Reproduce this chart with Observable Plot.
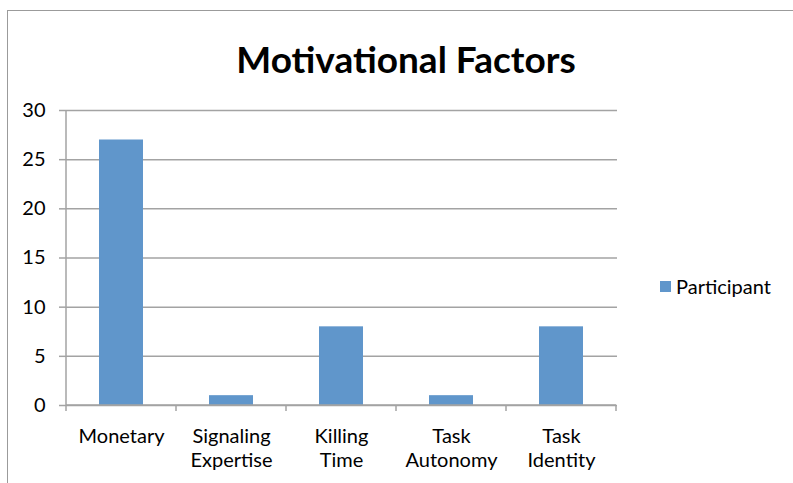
<!DOCTYPE html>
<html><head><meta charset="utf-8">
<script src="https://cdn.jsdelivr.net/npm/d3@7"></script>
<script src="https://cdn.jsdelivr.net/npm/@observablehq/plot@0.6"></script>
<style>
body{margin:0;background:#fff;}
#wrap{position:relative;width:793px;height:483px;overflow:hidden;font-family:Lato,"Open Sans",sans-serif;}
#frame{position:absolute;left:7px;top:10px;right:-5px;bottom:-5px;border-top:1.5px solid #9b9b9b;border-left:1.5px solid #9b9b9b;}
#title{position:absolute;left:0;width:812px;top:36px;text-align:center;font-weight:bold;font-size:37px;color:#000;}
#legend{position:absolute;left:660px;top:274px;font-size:20px;color:#000;display:flex;align-items:center;}
#legend span.sw{display:inline-block;width:11px;height:11px;background:#6096cb;margin-right:5px;}
#chart{position:absolute;left:0;top:0;}
</style></head>
<body>
<div id="wrap">
  <div id="frame"></div>
  <div id="chart"></div>
  <div id="title">Motivational Factors</div>
  <div id="legend"><span class="sw"></span><span>Participant</span></div>
</div>
<script>
const categories = ["Monetary", "Signaling Expertise", "Killing Time", "Task Autonomy", "Task Identity"];
const tickLabels = ["Monetary", "Signaling\nExpertise", "Killing\nTime", "Task\nAutonomy", "Task\nIdentity"];
const participant = [27, 1, 8, 1, 8];
const yTicks = [0, 5, 10, 15, 20, 25, 30];
const seriesName = "Participant";

const data = categories.map((c, i) => ({category: c, value: participant[i], series: seriesName}));
const labelOf = new Map(categories.map((c, i) => [c, tickLabels[i]]));
const grid = "#a3a3a3";

const axisLines = (index, scales, values, dimensions) => {
  const g = d3.create("svg:g");
  const x = scales.x;
  const y = scales.y;
  const c0 = x(categories[0]), c1 = x(categories[1]);
  const step = c1 - c0;
  const half = (step * 0.4) / 2;
  const y0 = y(0), yTop = y(yTicks[yTicks.length - 1]);
  const edges = categories.map(c => x(c) + half - step / 2);
  edges.push(x(categories[categories.length - 1]) + half + step / 2);
  for (const e of edges) {
    g.append("line").attr("x1", e).attr("x2", e).attr("y1", y0).attr("y2", y0 + 6)
      .attr("stroke", grid).attr("stroke-width", 1.5);
  }
  g.append("line").attr("x1", edges[0]).attr("x2", edges[edges.length - 1]).attr("y1", y0).attr("y2", y0)
    .attr("stroke", grid).attr("stroke-width", 1.5);
  g.append("line").attr("x1", edges[0]).attr("x2", edges[0]).attr("y1", yTop).attr("y2", y0)
    .attr("stroke", grid).attr("stroke-width", 1.5);
  return g.node();
};

const plot = Plot.plot({
  width: 793,
  height: 483,
  marginLeft: 66,
  marginRight: 176,
  marginTop: 110,
  marginBottom: 78,
  style: {fontFamily: "Lato, 'Open Sans', sans-serif", fontSize: "20px", background: "transparent", color: "#000"},
  x: {domain: categories, paddingInner: 0.6, paddingOuter: 0.3, label: null},
  y: {domain: [0, 30], label: null},
  marks: [
    Plot.gridY(yTicks, {stroke: grid, strokeOpacity: 1, strokeWidth: 1.5}),
    Plot.axisY(yTicks, {tickSize: 7, tickPadding: 14, stroke: grid, strokeWidth: 1.5, fontSize: 20, label: null, anchor: "left"}),
    Plot.barY(data, {x: "category", y: "value", fill: "#6096cb"}),
    axisLines,
    Plot.axisX({tickSize: 0, tickPadding: 20, fontSize: 20, lineHeight: 1.2, tickFormat: d => labelOf.get(d), label: null})
  ]
});
document.getElementById("chart").appendChild(plot);
</script>
</body></html>
